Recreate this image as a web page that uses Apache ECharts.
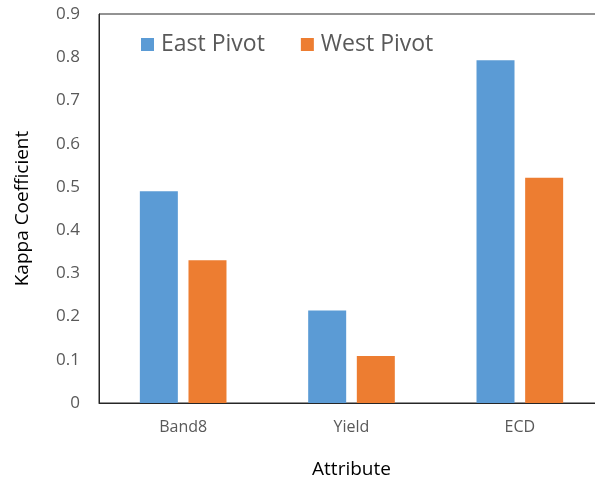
<!DOCTYPE html>
<html>
<head>
<meta charset="utf-8">
<script src="https://cdn.jsdelivr.net/npm/echarts@6/dist/echarts.min.js"></script>
<style>
  html, body { margin: 0; padding: 0; background: #fff; }
  #chart { width: 595px; height: 486px; }
</style>
</head>
<body>
<div id="chart"></div>
<script>
// Kappa coefficient per attribute for the two pivots
const categories = ['Band8', 'Yield', 'ECD'];
const eastPivot = [0.49, 0.214, 0.793];
const westPivot = [0.33, 0.109, 0.521];
const yTicks = { min: 0, max: 0.9, interval: 0.1 };

const FONT = '"Open Sans", "Noto Sans", sans-serif';

const chart = echarts.init(document.getElementById('chart'), null, { renderer: 'canvas' });

chart.setOption({
  animation: false,
  backgroundColor: '#ffffff',
  textStyle: { fontFamily: FONT },
  grid: {
    left: 99,
    top: 14,
    width: 505,
    height: 389,
    outerBoundsMode: 'none',
    containLabel: false,
    show: true,
    borderColor: '#262626',
    borderWidth: 1,
    backgroundColor: 'transparent'
  },
  legend: {
    left: 141,
    top: 33,
    padding: 0,
    icon: 'rect',
    itemWidth: 13,
    itemHeight: 13,
    itemGap: 36,
    textStyle: { fontFamily: FONT, fontSize: 23, color: '#595959', padding: [0, 0, 0, 2] },
    data: ['East Pivot', 'West Pivot']
  },
  xAxis: {
    type: 'category',
    data: categories,
    name: 'Attribute',
    nameLocation: 'middle',
    nameGap: 57,
    nameTextStyle: { fontFamily: FONT, fontSize: 19, color: '#000000' },
    axisLine: { lineStyle: { color: '#262626', width: 1 } },
    axisTick: { show: false },
    axisLabel: { fontFamily: FONT, fontSize: 16, color: '#595959', margin: 16 }
  },
  yAxis: {
    type: 'value',
    min: yTicks.min,
    max: yTicks.max,
    interval: yTicks.interval,
    name: 'Kappa Coefficient',
    nameLocation: 'middle',
    nameGap: 67,
    nameTextStyle: { fontFamily: FONT, fontSize: 19, color: '#000000' },
    axisLine: { show: true, lineStyle: { color: '#262626', width: 1 } },
    axisTick: { show: false },
    splitLine: { show: false },
    axisLabel: {
      fontFamily: FONT,
      fontSize: 17,
      color: '#595959',
      margin: 19,
      formatter: v => (v === 0 ? '0' : v.toFixed(1))
    }
  },
  series: [
    {
      name: 'East Pivot',
      type: 'bar',
      data: eastPivot,
      barWidth: 38,
      barGap: '28%',
      itemStyle: { color: '#5B9BD5' }
    },
    {
      name: 'West Pivot',
      type: 'bar',
      data: westPivot,
      barWidth: 38,
      barGap: '28%',
      itemStyle: { color: '#ED7D31' }
    }
  ]
});
</script>
</body>
</html>
